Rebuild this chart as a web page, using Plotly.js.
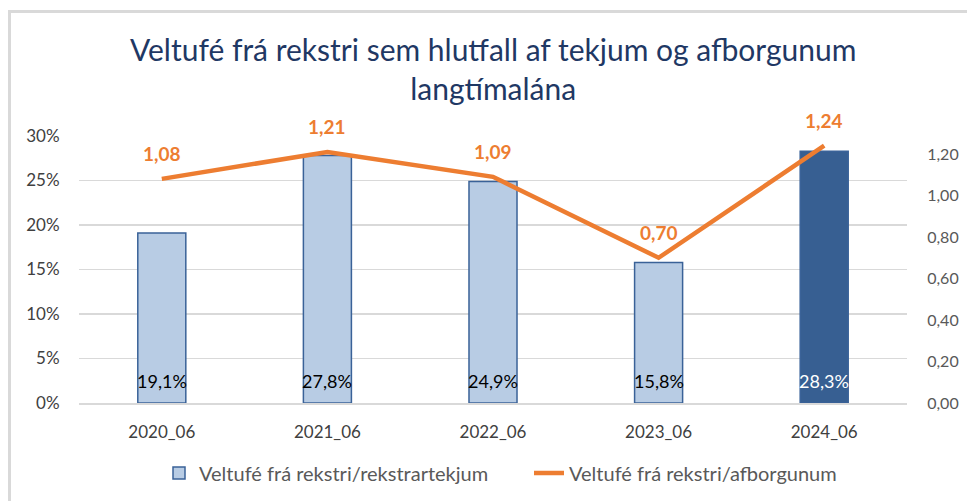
<!DOCTYPE html>
<html>
<head>
<meta charset="utf-8">
<script src="https://cdn.plot.ly/plotly-3.0.1.min.js"></script>
<style>
html,body{margin:0;padding:0;background:#fff;}
#wrap{position:relative;width:967px;height:501px;overflow:hidden;}
#frame{position:absolute;left:8px;top:10px;width:1000px;height:600px;border-left:3px solid #d9d9d9;border-top:3px solid #d9d9d9;pointer-events:none;}
#chart{position:absolute;left:0;top:0;width:967px;height:501px;}
</style>
</head>
<body>
<div id="wrap"><div id="chart"></div><div id="frame"></div></div>
<script>
const categories = ['2020_06','2021_06','2022_06','2023_06','2024_06'];
const barValues = [0.191, 0.278, 0.249, 0.158, 0.283];
const barLabels = ['19,1%','27,8%','24,9%','15,8%','28,3%'];
const lineValues = [1.08, 1.21, 1.09, 0.70, 1.24];
const lineLabels = ['1,08','1,21','1,09','0,70','1,24'];
const leftTicks = [0,0.05,0.10,0.15,0.20,0.25,0.30];
const leftTickText = ['0%','5%','10%','15%','20%','25%','30%'];
const rightTicks = [0,0.2,0.4,0.6,0.8,1.0,1.2];
const rightTickText = ['0,00','0,20','0,40','0,60','0,80','1,00','1,20'];
const barSeriesName = 'Veltufé frá rekstri/rekstrartekjum';
const lineSeriesName = 'Veltufé frá rekstri/afborgunum';
const titleText = 'Veltufé frá rekstri sem hlutfall af tekjum og afborgunum<br>langtímalána';

const FONT = 'Lato, "Open Sans", sans-serif';
const lightFill = '#B8CCE4', darkFill = '#375F92', edge = '#3A6298', orange = '#ED7D31';

const barColors = categories.map((c,i)=> i===categories.length-1 ? darkFill : lightFill);
const barTextColors = categories.map((c,i)=> i===categories.length-1 ? '#ffffff' : '#000000');

const traces = [
  {type:'bar', x:categories, y:barValues, name:barSeriesName,
   marker:{color:barColors, line:{color:edge, width:1.5}}, hoverinfo:'none'},
  {type:'scatter', mode:'lines', x:categories, y:lineValues, yaxis:'y2', name:lineSeriesName,
   line:{color:orange, width:4.5}, hoverinfo:'none'}
];

const annotations = [];
categories.forEach((c,i)=>{
  annotations.push({x:c, y:0, xref:'x', yref:'y', text:barLabels[i], showarrow:false,
    yanchor:'middle', yshift:22, font:{family:FONT, size:18, color:barTextColors[i]}});
  annotations.push({x:c, y:lineValues[i], xref:'x', yref:'y2', text:'<b>'+lineLabels[i]+'</b>', showarrow:false,
    yanchor:'middle', yshift:25, font:{family:FONT, size:19, color:orange}});
});

const layout = {
  width:967, height:501,
  margin:{l:79, r:60, t:136, b:98},
  paper_bgcolor:'rgba(0,0,0,0)', plot_bgcolor:'rgba(0,0,0,0)',
  font:{family:FONT, color:'#404040', size:17},
  title:{text:titleText, font:{family:FONT, size:30, color:'#1F3864'},
    x:0.51, xanchor:'center', y:1-61/501, yanchor:'middle', yref:'container'},
  bargap:0.71,
  showlegend:true,
  legend:{orientation:'h', xref:'container', yref:'container', x:159/967, xanchor:'left', y:1-473/501, yanchor:'middle',
    font:{family:FONT, size:20, color:'#595959'}, traceorder:'normal', itemwidth:30,
    entrywidth:325, entrywidthmode:'pixels'},
  xaxis:{type:'category', showgrid:false, showline:true, linecolor:'#d9d9d9', linewidth:2,
    ticks:'outside', ticklen:13, tickcolor:'rgba(0,0,0,0)', tickfont:{size:17, color:'#404040'}, fixedrange:true},
  yaxis:{range:[0,0.30], tickvals:leftTicks, ticktext:leftTickText, showgrid:true, gridcolor:'#d9d9d9', gridwidth:1.5,
    zeroline:false, showline:false, ticks:'outside', ticklen:15, tickcolor:'rgba(0,0,0,0)',
    tickfont:{size:17, color:'#404040'}, fixedrange:true},
  yaxis2:{overlaying:'y', side:'right', range:[0,1.2867], tickvals:rightTicks, ticktext:rightTickText,
    showgrid:false, zeroline:false, showline:false, ticks:'outside', ticklen:16, tickcolor:'rgba(0,0,0,0)',
    tickfont:{size:16, color:'#595959'}, fixedrange:true},
  annotations:annotations
};

Plotly.newPlot('chart', traces, layout, {displayModeBar:false, staticPlot:true});
</script>
</body>
</html>
